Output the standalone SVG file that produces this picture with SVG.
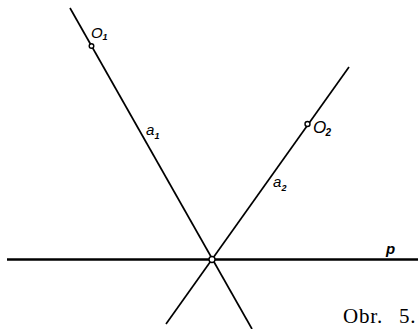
<svg xmlns="http://www.w3.org/2000/svg" width="419" height="329" viewBox="0 0 419 329">
<style>
.ln{stroke:#000;stroke-width:1.7;fill:none;stroke-linecap:butt}
.pt{stroke:#000;stroke-width:1.4;fill:#fff}
.lb{font-family:"Liberation Sans",Arial,sans-serif;font-style:italic;fill:#000}
.sub{font-family:"Liberation Sans",Arial,sans-serif;font-style:italic;font-weight:bold;fill:#000}
.cap{font-family:"Liberation Serif","Times New Roman",serif;fill:#000}
</style>
<rect width="419" height="329" fill="#fff"/>
<g id="connectors">
<line id="p" class="ln" x1="7" y1="259.5" x2="418" y2="259.5" style="stroke-width:2.4"/>
<line id="a1" class="ln" x1="70" y1="8" x2="252" y2="329"/>
<line id="a2" class="ln" x1="349" y1="67" x2="166" y2="324"/>
</g>
<g id="O1">
<circle class="pt" cx="91.5" cy="46" r="2.3"/>
<text class="lb" x="91" y="38" font-size="15">O</text>
<text class="sub" x="102.5" y="40" font-size="9">1</text>
</g>
<g id="O2">
<circle class="pt" cx="307.5" cy="124" r="2.5"/>
<text class="lb" x="313" y="133" font-size="17">O</text>
<text class="sub" x="325.5" y="136" font-size="10">2</text>
</g>
<g id="P">
<circle class="pt" cx="212" cy="259.5" r="3"/>
</g>
<g id="label-a1">
<text class="lb" x="146" y="135" font-size="15">a</text>
<text class="sub" x="154.5" y="139" font-size="9">1</text>
</g>
<g id="label-a2">
<text class="lb" x="273" y="187" font-size="15">a</text>
<text class="sub" x="281.5" y="191" font-size="9">2</text>
</g>
<g id="label-p">
<text class="lb" x="386" y="254" font-size="15" font-weight="bold">p</text>
</g>
<text class="cap" x="343" y="323" font-size="21" letter-spacing="0.8">Obr.<tspan x="399">5.</tspan></text>
</svg>
